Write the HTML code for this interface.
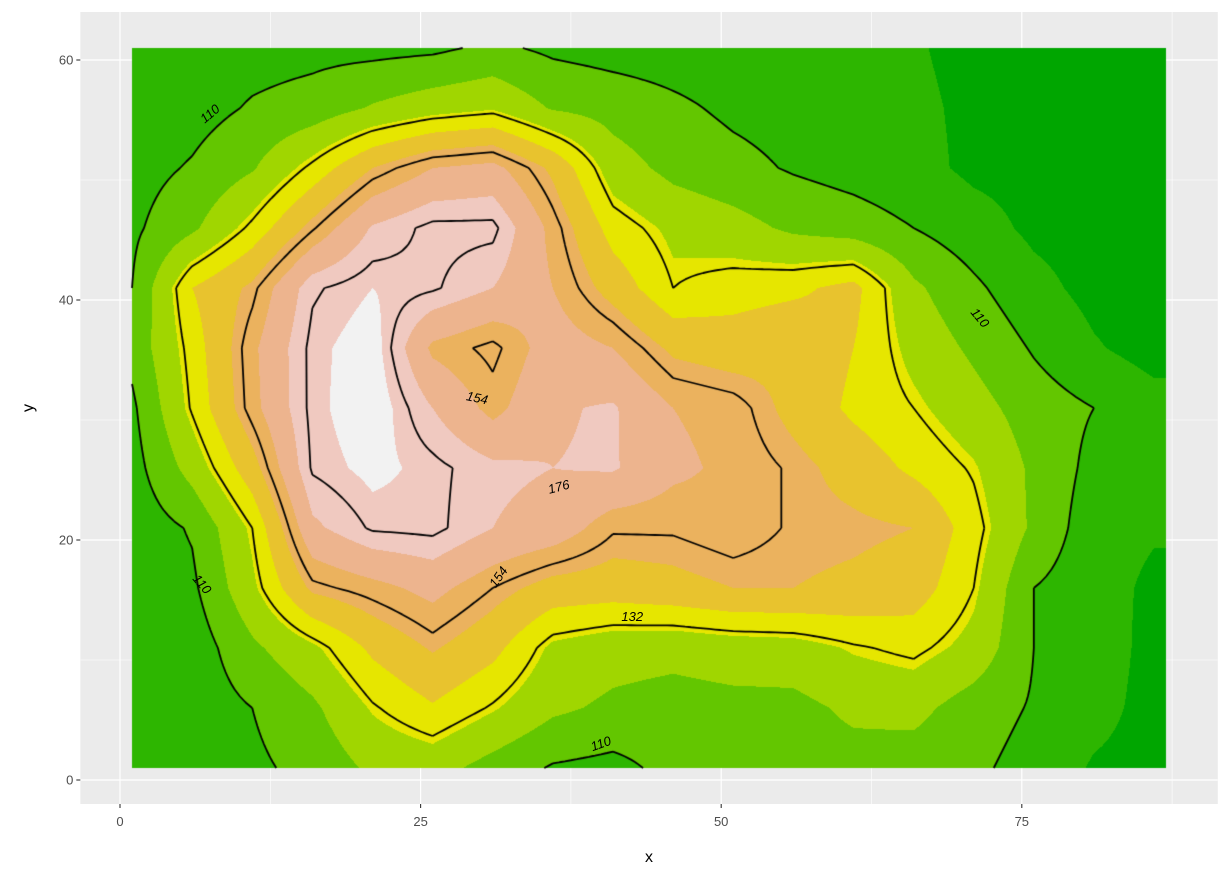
<!DOCTYPE html>
<html><head><meta charset="utf-8">
<style>
html,body{margin:0;padding:0;background:#fff;}
#wrap{position:relative;width:1232px;height:880px;font-family:"Liberation Sans",sans-serif;}
svg,canvas{position:absolute;left:0;top:0;}
</style></head>
<body>
<div id="wrap">
<svg id="bg" width="1232" height="880"></svg>
<canvas id="cv" width="1232" height="880"></canvas>
<svg id="fg" width="1232" height="880"></svg>
</div>
<script>
// grid x positions and rows (top y=61 down to y=1)
const gridX=[1,6,11,16,21,26,31,36,41,46,51,56,61,66,71,76,81,86];
const gridY=[61,56,51,46,41,36,31,26,21,16,11,6,1];
const rowY61=[104,105,106,107,107,108,112,108,106,105,104,103,102,101,97,96,95,95];
const rowY56=[103,106,111,114,121,126,129,119,116,112,108,106,105,102,98,97,96,95];
const rowY51=[106,111,119,134,150,160,163,148,125,117,113,109,106,103,98,97,96,95];
const rowY46=[108,118,134,153,171,178,178,157,136,128,124,118,115,110,104,98,96,95];
const rowY41=[110,140,152,175,180,177,170,160,146,132,136,138,143,122,112,103,97,95];
const rowY36=[113,135,158,178,184,158,152,165,160,148,145,148,140,127,118,109,101,96];
const rowY31=[108,133,157,178,185,170,157,169,171,160,157,147,138,132,124,115,110,104];
const rowY26=[106,124,146,177,182,178,172,170,171,162,158,153,146,138,131,118,107,103];
const rowY21=[104,111,132,168,177,178,170,166,155,155,158,153,152,150,135,118,104,101];
const rowY16=[103,108,128,152,157,163,154,146,145,147,150,150,148,145,132,110,104,98];
const rowY11=[102,104,118,128,142,151,143,128,124,123,125,126,131,134,127,110,105,97];
const rowY6=[102,104,110,118,131,139,131,122,118,116,117,117,122,123,115,109,103,97];
const rowY1=[102,104,108,113,122,124,116,109,107,113,114,115,116,115,112,106,99,97];
const rows=[rowY61,rowY56,rowY51,rowY46,rowY41,rowY36,rowY31,rowY26,rowY21,rowY16,rowY11,rowY6,rowY1];
const bandColors=["#00A600","#2DB600","#63C600","#A0D600","#E6E600","#E8C32E","#EBB25E","#EDB48E","#F0C9C0","#F2F2F2"];
const levels=[110,132,154,176];
const xTicks=[0,25,50,75], yTicks=[0,20,40,60];
const xMinor=[12.5,37.5,62.5,87.5], yMinor=[10,30,50];
const contourLabels=[["110",7.5,55.5,-40],["110",71.5,38.5,50],["110",6.8,16.3,50],["110",40,3,-20],["132",42.6,13.6,0],["154",29.7,31.8,12],["154",31.5,16.9,-55],["176",36.5,24.4,-15]];

const X=v=>120+v*12.024, Y=v=>780-v*12;
const xmin=-3.3,xmax=91.3,ymin=-2,ymax=64;
function val(x,y){
  let fx=(x-1)/5; fx=Math.max(0,Math.min(17,fx));
  let fy=(61-y)/5; fy=Math.max(0,Math.min(12,fy));
  let i=Math.min(16,Math.floor(fx)), j=Math.min(11,Math.floor(fy));
  let tx=fx-i, ty=fy-j;
  const a=rows[j][i],b=rows[j][i+1],c=rows[j+1][i],d=rows[j+1][i+1];
  return (a*(1-tx)+b*tx)*(1-ty)+(c*(1-tx)+d*tx)*ty;
}
const NS='http://www.w3.org/2000/svg';
function mk(p,tag,attrs,name){const e=document.createElementNS(NS,tag);for(const k in attrs)e.setAttribute(k,attrs[k]);
  
  
  p.appendChild(e);return e;}
const bg=document.getElementById('bg'), fg=document.getElementById('fg');
mk(bg,'rect',{x:X(xmin),y:Y(ymax),width:X(xmax)-X(xmin),height:Y(ymin)-Y(ymax),fill:'#EBEBEB'},'panel');
xMinor.forEach(v=>mk(bg,'line',{x1:X(v),x2:X(v),y1:Y(ymin),y2:Y(ymax),stroke:'#fff','stroke-width':0.6},'x-minor-gridline'));
yMinor.forEach(v=>mk(bg,'line',{y1:Y(v),y2:Y(v),x1:X(xmin),x2:X(xmax),stroke:'#fff','stroke-width':0.6},'y-minor-gridline'));
xTicks.forEach(v=>{mk(bg,'line',{x1:X(v),x2:X(v),y1:Y(ymin),y2:Y(ymax),stroke:'#fff','stroke-width':1.2},'x-major-gridline');
  mk(bg,'line',{x1:X(v),x2:X(v),y1:Y(ymin),y2:Y(ymin)+4,stroke:'#333','stroke-width':1.1},'x-tick');
  const t=mk(bg,'text',{x:X(v),y:826,'text-anchor':'middle','font-size':13,fill:'#4D4D4D'},'x-tick-label');t.textContent=v;});
yTicks.forEach(v=>{mk(bg,'line',{y1:Y(v),y2:Y(v),x1:X(xmin),x2:X(xmax),stroke:'#fff','stroke-width':1.2},'y-major-gridline');
  mk(bg,'line',{y1:Y(v),y2:Y(v),x1:X(xmin)-4,x2:X(xmin),stroke:'#333','stroke-width':1.1},'y-tick');
  const t=mk(bg,'text',{x:X(xmin)-7,y:Y(v)+4.5,'text-anchor':'end','font-size':13,fill:'#4D4D4D'},'y-tick-label');t.textContent=v;});
let t=mk(fg,'text',{x:649,y:862,'text-anchor':'middle','font-size':16,fill:'#000'},'x-axis-title');t.textContent='x';
t=mk(fg,'text',{x:33,y:408,'text-anchor':'middle','font-size':16,fill:'#000',transform:'rotate(-90 33 408)'},'y-axis-title');t.textContent='y';

const cv=document.getElementById('cv'),ctx=cv.getContext('2d');
const px0=Math.round(X(1)),px1=Math.round(X(87)),py0=Math.round(Y(61)),py1=Math.round(Y(1));
const W=px1-px0,H=py1-py0,img=ctx.createImageData(W,H);
const rgb=bandColors.map(c=>[parseInt(c.substr(1,2),16),parseInt(c.substr(3,2),16),parseInt(c.substr(5,2),16)]);
for(let py=0;py<H;py++)for(let px=0;px<W;px++){
  const x=(px0+px+0.5-120)/12.024, y=(780-(py0+py+0.5))/12;
  const v=val(x,y); let k=Math.floor((v-100)/10)+1; k=Math.max(0,Math.min(9,k));
  const o=(py*W+px)*4; img.data[o]=rgb[k][0];img.data[o+1]=rgb[k][1];img.data[o+2]=rgb[k][2];img.data[o+3]=255;}
ctx.putImageData(img,px0,py0);
// contour lines via marching squares
ctx.strokeStyle='#000';ctx.lineWidth=1.8;ctx.lineJoin='round';
const st=0.5;
levels.forEach(L=>{
  ctx.beginPath();
  for(let x=1;x<87-1e-9;x+=st)for(let y=1;y<61-1e-9;y+=st){
    const c=[[x,y],[x+st,y],[x+st,y+st],[x,y+st]].map(p=>[p[0],p[1],val(p[0],p[1])]);
    const pts=[];
    for(let e=0;e<4;e++){const a=c[e],b=c[(e+1)%4];
      if((a[2]<L)!==(b[2]<L)){const f=(L-a[2])/(b[2]-a[2]);pts.push([a[0]+f*(b[0]-a[0]),a[1]+f*(b[1]-a[1])]);}}
    for(let k=0;k+1<pts.length;k+=2){ctx.moveTo(X(pts[k][0]),Y(pts[k][1]));ctx.lineTo(X(pts[k+1][0]),Y(pts[k+1][1]));}
  }
  ctx.stroke();
});
contourLabels.forEach(l=>{const x=X(l[1]),y=Y(l[2]);
  const e=mk(fg,'text',{x:x,y:y+4,'text-anchor':'middle','font-size':13,'font-style':'italic',fill:'#000',transform:`rotate(${l[3]} ${x} ${y})`},'contour-label');e.textContent=l[0];});
</script>
</body></html>
